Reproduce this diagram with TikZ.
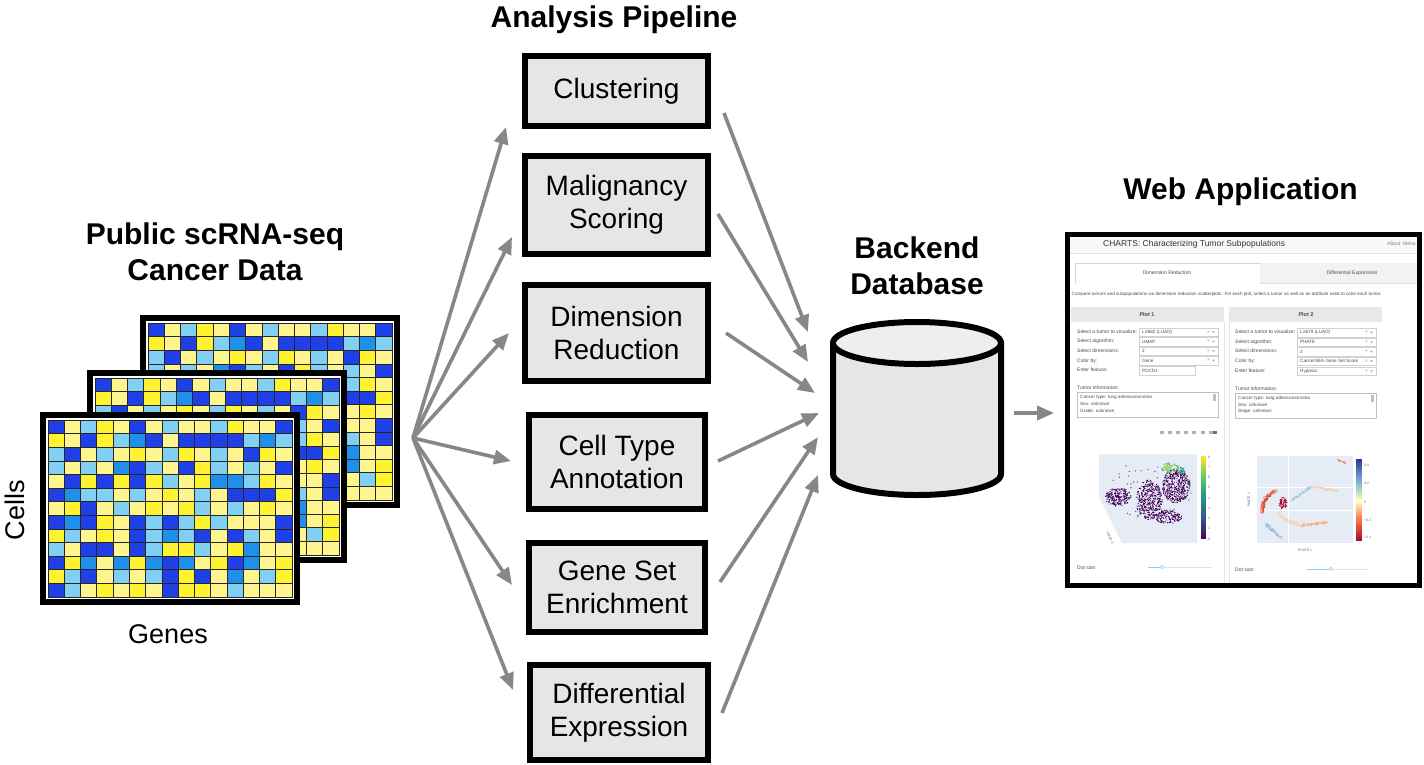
\documentclass[tikz,border=0pt]{standalone}
\usepackage{fontspec}
\setmainfont{Liberation Sans}
\usetikzlibrary{arrows.meta}

\definecolor{arrgray}{HTML}{878787}
\definecolor{boxgray}{HTML}{E6E6E6}
\definecolor{dbtop}{HTML}{EEEEEE}
\definecolor{cD}{HTML}{1E40E6}
\definecolor{cM}{HTML}{1E90EA}
\definecolor{cL}{HTML}{82CFF4}
\definecolor{cY}{HTML}{FFF230}
\definecolor{cP}{HTML}{FFF58E}
\definecolor{plotbg}{HTML}{E5ECF6}
\definecolor{hdr}{HTML}{F8F8F8}
\definecolor{tabline}{HTML}{C9D9E6}
\definecolor{slider}{HTML}{8FD0F0}
\definecolor{vir0}{HTML}{FDE725}
\definecolor{vir1}{HTML}{5EC962}
\definecolor{vir2}{HTML}{21918C}
\definecolor{vir3}{HTML}{3B528B}
\definecolor{vir4}{HTML}{440154}
\definecolor{rdb0}{HTML}{313695}
\definecolor{rdb1}{HTML}{74ADD1}
\definecolor{rdb2}{HTML}{FFFFBF}
\definecolor{rdb3}{HTML}{F46D43}
\definecolor{rdb4}{HTML}{A50026}

\def\matpattern{{D,P,L,Y,P,D,P,L,P,P,L,Y,P,P,D},{Y,P,D,Y,L,M,D,P,D,D,D,D,L,M,L},{L,D,P,L,P,Y,P,L,Y,P,L,P,D,Y,P},{L,P,L,P,M,D,L,P,D,Y,L,P,L,P,D},{P,D,Y,D,Y,D,Y,L,P,Y,M,M,L,Y,P},{D,M,L,L,P,L,P,Y,P,L,P,D,D,D,Y},{P,Y,D,P,L,P,Y,P,Y,L,P,L,P,Y,P},{D,M,D,Y,P,D,L,D,L,Y,L,P,P,P,D},{Y,L,P,Y,P,D,L,M,L,D,P,D,L,P,D},{L,P,D,D,P,D,L,Y,Y,L,P,Y,M,P,P},{D,Y,M,P,M,Y,M,D,M,P,Y,D,M,P,Y},{Y,L,D,P,L,P,L,D,Y,D,P,M,P,L,Y},{D,L,P,Y,P,Y,P,D,Y,Y,P,L,P,P,P}}

\newcommand\drawmat[2]{%
\begin{scope}[shift={(#1,#2)}]
 \fill[white] (40,412) rectangle (300,605);
 \foreach \rowlist [count=\r from 0] in \matpattern {
   \foreach \cc [count=\q from 0] in \rowlist {
     \filldraw[fill=c\cc, draw=black!85, line width=0.7pt] ({48+\q*16.27},{420+\r*13.62}) rectangle ++(16.27,13.62);
   }
 }
 \draw[line width=6pt] (43,415) rectangle (297,602);
\end{scope}}

\newcommand\blob[6]{\foreach \k in {1,...,#5}{\pgfmathsetmacro\ang{360*rnd}\pgfmathsetmacro\rad{sqrt(rnd)}\fill[#6] ({#1+#3*\rad*cos(\ang)},{#2+#4*\rad*sin(\ang)}) circle (0.65);}}

\newcommand\arcdots[9]{\foreach \k in {1,...,#8}{\pgfmathsetmacro\t{rnd}\pgfmathsetmacro\px{(1-\t)*(1-\t)*#1+2*\t*(1-\t)*#3+\t*\t*#5+#7*rand}\pgfmathsetmacro\py{(1-\t)*(1-\t)*#2+2*\t*(1-\t)*#4+\t*\t*#6+#7*rand}\fill[#9] (\px,\py) circle (0.6);}}

\newcommand\cbar[5]{\foreach \i in {0,...,39}{\pgfmathtruncatemacro\sg{int(\i/10)}\pgfmathtruncatemacro\sn{\sg+1}\pgfmathtruncatemacro\pp{100-10*(\i-10*\sg)}\fill[#5\sg!\pp!#5\sn] (#1,{#2+(#4-#2)*\i/40}) rectangle (#3,{#2+(#4-#2)*(\i+1)/40+0.3});}}

\newcommand\dd[5]{%
 \draw[line width=0.4pt, draw=black!18, fill=white] (#1,#3-4.3) rectangle (#2,#3+4.3);
 \node[valt, anchor=west] (#5) at (#1+3,#3) {#4};
 \node[valt, text=black!45] (#5x) at (#2-9.5,#3) {×};
 \draw[black!45, line width=0.4pt] (#2-5.5,#3-0.8) -- (#2-4.5,#3+0.7) -- (#2-3.5,#3-0.8);
}

\begin{document}
\begin{tikzpicture}[x=1pt,y=-1pt,
  stepbox/.style={draw=black, line width=6pt, fill=boxgray, minimum width=183pt, align=center, font=\fontsize{28}{33}\selectfont, inner sep=0pt},
  head/.style={font=\fontsize{30}{36}\selectfont\bfseries, align=center, inner sep=0pt},
  lab/.style={font=\fontsize{27}{32}\selectfont, inner sep=0pt},
  arr/.style={draw=arrgray, line width=3.6pt, -{Triangle[length=17pt,width=14pt]}},
  tinyt/.style={font=\fontsize{5.1}{6}\selectfont, text=black!70, inner sep=0pt},
  labt/.style={font=\fontsize{5.0}{6}\selectfont, text=black!70, inner sep=0pt},
  valt/.style={font=\fontsize{4.6}{5}\selectfont, text=black!70, inner sep=0pt},
  microt/.style={font=\fontsize{3.4}{4}\selectfont, text=black!60, inner sep=0pt}]
\useasboundingbox (0,0) rectangle (1424,764);
\fill[white] (0,0) rectangle (1424,764);

% ---------- data matrices
\drawmat{100}{-97}
\drawmat{47}{-42}
\drawmat{0}{0}
\node[head] (tdata) at (215,252) {Public scRNA-seq\\Cancer Data};
\node[lab, rotate=90] (cells) at (15,510) {Cells};
\node[lab, anchor=base] (genes) at (168,643) {Genes};

% ---------- pipeline
\node[head, anchor=base] (tpipe) at (614,27) {Analysis Pipeline};
\node[stepbox, minimum height=70pt] (clus) at (616.5,91) {Clustering};
\node[stepbox, minimum height=98pt] (mal) at (616.5,205) {Malignancy\\Scoring};
\node[stepbox, minimum height=96pt] (dim) at (616.5,333) {Dimension\\Reduction};
\node[stepbox, minimum width=176pt, minimum height=94pt] (cell) at (617,462) {Cell Type\\Annotation};
\node[stepbox, minimum width=176pt, minimum height=89pt] (gene) at (617,587.5) {Gene Set\\Enrichment};
\node[stepbox, minimum width=178pt, minimum height=95pt] (diff) at (619,712.5) {Differential\\Expression};

% ---------- arrows
\coordinate (fan) at (413,438);
\foreach \n/\x/\y in {a1/506/127, a2/512/237, a3/509/333, a4/511/461, a5/512/585, a6/513/690,
  s1/724/113, s2/718/214, s3/726/333, s4/718/461, s5/720/582, s6/722/713,
  d1/808/332, d2/808/362, d3/815/393, d4/819/413, d5/818/437, d6/818/475,
  w0/1014/413, w1/1054/413}
  \coordinate (\n) at (\x,\y);
\foreach \n in {a1,a2,a3,a4,a5,a6} \draw[arr] (fan) -- (\n);
\foreach \i in {1,...,6} \draw[arr] (s\i) -- (d\i);
\draw[arr] (w0) -- (w1);

% ---------- database
\node[head] (tdb) at (917,265.5) {Backend\\Database};
\coordinate (db) at (917,408);
\fill[boxgray] (833,343) -- (833,474) arc[start angle=180,end angle=0,x radius=84,y radius=21] -- (1001,343) -- cycle;
\draw[line width=6pt] (833,343) -- (833,474) arc[start angle=180,end angle=0,x radius=84,y radius=21] -- (1001,343);
\draw[line width=6pt, fill=dbtop] (917,343) ellipse [x radius=84, y radius=21];

% ---------- web application
\node[head, anchor=base] (tweb) at (1240.5,199) {Web Application};
\fill[white] (1067,234) rectangle (1420,586);
\fill[hdr] (1070,237) rectangle (1417,253);
\draw[black!12, line width=0.5pt] (1070,253.5) -- (1417,253.5);
\node[font=\fontsize{8.5}{10}\selectfont, text=black!80, anchor=west, inner sep=0pt] (apptitle) at (1103,244) {CHARTS: Characterizing Tumor Subpopulations};
\node[tinyt, anchor=east, text=black!50] (appmenu) at (1416,244) {About\enspace Menu};
\draw[tabline, line width=0.6pt, fill=white] (1075,283) -- (1075,263) -- (1260,263) -- (1260,283);
\fill[black!5] (1260,263) rectangle (1417,283);
\draw[black!12, line width=0.5pt] (1260,283) -- (1417,283);
\node[tinyt] (tab1) at (1167,273) {Dimension Reduction};
\node[tinyt] (tab2) at (1352,273) {Differential Expression};
\node[valt, anchor=west] (desc) at (1071.5,294) {Compare tumors and subpopulations via dimension reduction scatterplots. For each plot, select a tumor as well as an attribute used to color each tumor.};
% plot headers
\fill[black!9] (1071,307) rectangle (1224,322);
\fill[black!9] (1229,307) rectangle (1382,322);
\node[tinyt, font=\fontsize{5.5}{6}\selectfont\bfseries] (p1h) at (1147,314.5) {Plot 1};
\node[tinyt, font=\fontsize{5.5}{6}\selectfont\bfseries] (p2h) at (1306,314.5) {Plot 2};
\draw[black!10, line width=0.5pt] (1224,322) -- (1224,583) (1071,583) -- (1224,583);
\draw[black!10, line width=0.5pt] (1229,322) -- (1229,583) -- (1382,583);
% plot 1 form
\foreach \y/\t [count=\i] in {332/Select a tumor to visualize:, 341/Select algorithm:, 351/Select dimensions:, 361/Color by:, 370/Enter feature:}
  \node[labt, anchor=west] (l1\i) at (1077,\y) {\t};
\dd{1139}{1218}{332}{LX682 (LUAD)}{v11}
\dd{1139}{1218}{341.5}{UMAP}{v12}
\dd{1139}{1218}{351}{2}{v13}
\dd{1139}{1218}{360.5}{Gene}{v14}
\draw[line width=0.4pt, draw=black!18] (1139,366) rectangle (1195,375);
\node[valt, anchor=west] (v15) at (1142,370.5) {PDCD1};
% plot 2 form
\foreach \y/\t [count=\i] in {332/Select a tumor to visualize:, 342/Select algorithm:, 351/Select dimensions:, 361/Color by:, 371/Enter feature:}
  \node[labt, anchor=west] (l2\i) at (1235,\y) {\t};
\dd{1297}{1376}{332.5}{LX679 (LUAD)}{v21}
\dd{1297}{1376}{342}{PHATE}{v22}
\dd{1297}{1376}{351.5}{2}{v23}
\dd{1297}{1376}{361}{CancerSEA Gene Set Score}{v24}
\dd{1297}{1376}{371}{Hypoxia}{v25}
% tumor information
\node[labt, anchor=west] (ti1) at (1077,388) {Tumor information:};
\draw[line width=0.4pt, draw=black!25, fill=white] (1077,392) rectangle (1218,417);
\fill[black!25] (1213,394) rectangle (1216,401);
\node[valt, anchor=west] (ti1a) at (1080,397.5) {Cancer type: lung adenocarcinoma};
\node[valt, anchor=west] (ti1b) at (1080,404) {Sex: unknown};
\node[valt, anchor=west] (ti1c) at (1080,410.5) {Grade: unknown};
\node[labt, anchor=west] (ti2) at (1235,389) {Tumor information:};
\draw[line width=0.4pt, draw=black!25, fill=white] (1235,393) rectangle (1376,418);
\fill[black!25] (1371,395) rectangle (1374,402);
\node[valt, anchor=west] (ti2a) at (1238,398.5) {Cancer type: lung adenocarcinoma};
\node[valt, anchor=west] (ti2b) at (1238,405) {Sex: unknown};
\node[valt, anchor=west] (ti2c) at (1238,411.5) {Stage: unknown};
% toolbar
\foreach \x in {1160,1168,1176,1184,1192,1201,1209} \fill[black!30] (\x,430.5) rectangle ++(3.5,3);
\fill[black!55] (1213,430.5) rectangle ++(4,3);
% plot 1 (UMAP)
\fill[plotbg] (1099,454) -- (1197,454) -- (1197,543) -- (1122,543) -- (1099,497) -- cycle;
\pgfmathsetseed{11}
\blob{1150}{492}{45}{32}{50}{vir4!85}
\blob{1118}{497}{13}{9}{220}{vir4}
\blob{1149}{500}{13}{20}{380}{vir4}
\blob{1176}{486}{14}{17}{420}{vir4}
\blob{1168}{517}{14}{7}{160}{vir4}
\blob{1170}{468}{9}{5}{70}{vir1}
\blob{1168}{467}{5}{3}{25}{vir0!50!vir1}
\blob{1181}{471}{4}{4}{30}{vir2}
\cbar{1201}{456}{1206}{539}{vir}
\foreach \t [count=\i from 0] in {8,7,6,5,4,3,2,1,0}
  \node[microt, anchor=west] (vt\i) at (1208,{457+\i*10.25}) {\t};
\node[microt, rotate=-65] (ax1) at (1110,538) {UMAP 3};
% plot 2 (PHATE)
\fill[plotbg] (1257,456) rectangle (1353,543);
\draw[white, line width=0.6pt] (1288,456) -- (1288,543) (1257,487) -- (1353,487) (1257,510) -- (1353,510);
\arcdots{1262}{514}{1260}{496}{1278}{490}{1.5}{130}{rdb3}
\arcdots{1264}{512}{1262}{500}{1272}{494}{1.2}{60}{rdb3!60!rdb4}
\blob{1283}{503}{4}{6}{60}{rdb4}
\arcdots{1292}{500}{1300}{494}{1313}{486}{1.3}{80}{rdb1!70}
\arcdots{1313}{487}{1325}{489}{1337}{491}{1.0}{70}{rdb3!35!rdb2}
\arcdots{1278}{512}{1290}{530}{1327}{522}{1.6}{120}{rdb2!70!rdb3}
\arcdots{1300}{526}{1315}{524}{1327}{522}{1.2}{70}{rdb3!60!rdb2}
\arcdots{1266}{524}{1272}{530}{1282}{539}{1.5}{80}{rdb1!80}
\arcdots{1338}{460}{1342}{461}{1347}{464}{0.6}{20}{rdb3}
\cbar{1356}{459}{1362}{541}{rdb}
\foreach \y/\t [count=\i] in {465/0.4, 483/0.2, 502/0, 520/−0.2, 537/−0.4}
  \node[microt, anchor=west] (rt\i) at (1364,\y) {\t};
\node[microt] (ax2) at (1305,550) {PHATE 1};
\node[microt, rotate=90] (ax3) at (1249,500) {PHATE 2};
% dot size sliders
\node[labt, anchor=west] (ds1) at (1077,568) {Dot size:};
\draw[black!12, line width=0.6pt] (1148,567) -- (1212,567);
\draw[slider, line width=0.8pt] (1148,567) -- (1162,567);
\draw[slider, fill=white, line width=0.5pt] (1162,567) circle (1.8);
\node[labt, anchor=west] (ds2) at (1235,570) {Dot size:};
\draw[black!12, line width=0.6pt] (1307,569) -- (1368,569);
\draw[slider, line width=0.8pt] (1307,569) -- (1331,569);
\draw[slider, fill=white, line width=0.5pt] (1331,569) circle (1.8);
% frame
\node[draw, line width=5pt, minimum width=352pt, minimum height=351pt, inner sep=0pt] (web) at (1243.5,410) {};
\end{tikzpicture}
\end{document}
